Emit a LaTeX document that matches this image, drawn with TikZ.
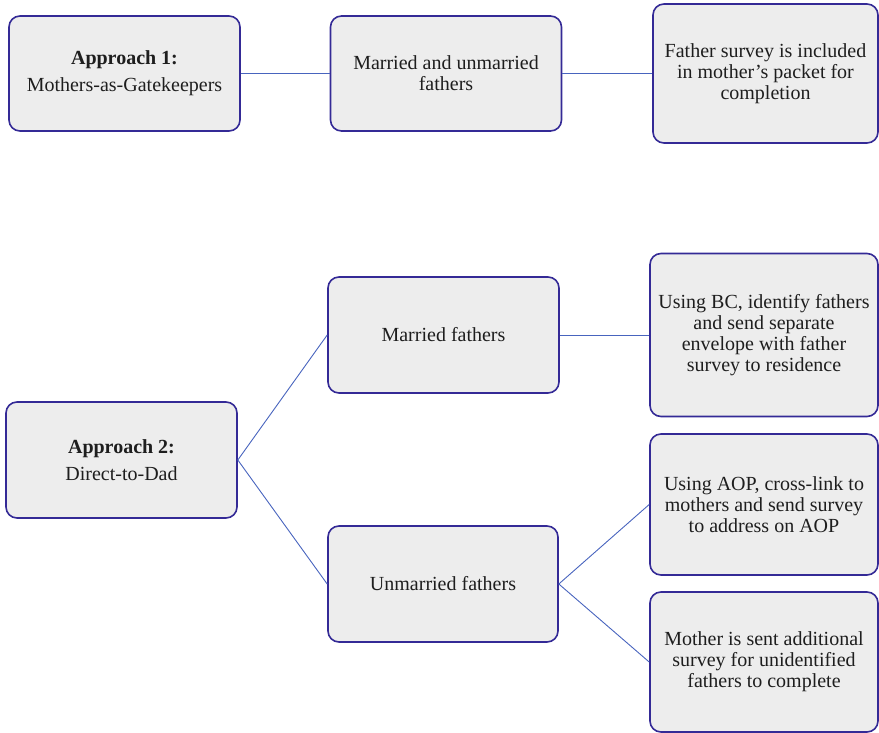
\documentclass[tikz,border=0pt]{standalone}
\usepackage{fontspec}
\setmainfont{Liberation Serif}
\definecolor{boxfill}{RGB}{237,237,237}
\definecolor{boxdraw}{RGB}{52,42,150}
\definecolor{linkcol}{RGB}{72,100,190}
\definecolor{txt}{RGB}{30,30,30}
\tikzset{
  box/.style={draw=boxdraw, fill=boxfill, line width=1.6pt, rounded corners=11pt,
    inner sep=0pt, align=center, text=txt,
    font=\fontsize{20pt}{21pt}\selectfont},
  link/.style={draw=linkcol, line width=0.9pt}
}
\begin{document}
\begin{tikzpicture}[x=1pt,y=-1pt]
\useasboundingbox (0,0) rectangle (879,733);
\node[box, minimum width=231pt, minimum height=115pt] (a1) at (124.5,73.5) {\textbf{Approach 1:}\\[6pt]Mothers-as-Gatekeepers};
\node[box, minimum width=231pt, minimum height=115pt] (m1) at (446,73.5) {Married and unmarried\\fathers};
\node[box, minimum width=225pt, minimum height=139pt] (f1) at (765.5,73.5) {Father survey is included\\in mother’s packet for\\completion};
\node[box, minimum width=231pt, minimum height=116pt] (a2) at (121.5,460) {\textbf{Approach 2:}\\[6pt]Direct-to-Dad};
\node[box, minimum width=231pt, minimum height=116pt] (mf) at (443.5,335) {Married fathers};
\node[box, minimum width=230pt, minimum height=116pt] (uf) at (443,584) {Unmarried fathers};
\node[box, minimum width=228pt, minimum height=163pt] (r1) at (764,335) {Using BC, identify fathers\\and send separate\\envelope with father\\survey to residence};
\node[box, minimum width=228pt, minimum height=141pt] (r2) at (764,504.5) {Using AOP, cross-link to\\mothers and send survey\\to address on AOP};
\node[box, minimum width=228pt, minimum height=140pt] (r3) at (764,662) {Mother is sent additional\\survey for unidentified\\fathers to complete};
\draw[link] (a1.east) -- (m1.west);
\draw[link] (m1.east) -- (f1.west);
\draw[link] (a2.east) -- (mf.west);
\draw[link] (a2.east) -- (uf.west);
\draw[link] (mf.east) -- (r1.west);
\draw[link] (uf.east) -- (r2.west);
\draw[link] (uf.east) -- (r3.west);
\end{tikzpicture}
\end{document}
